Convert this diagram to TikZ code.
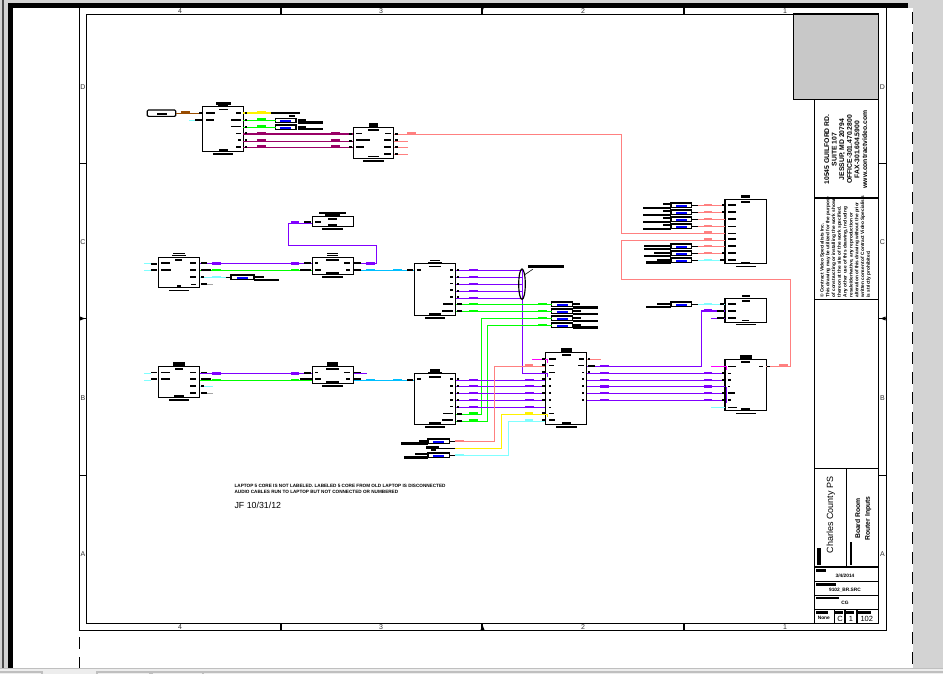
\documentclass[tikz,border=0pt]{standalone}
\usepackage{fontspec}
\setmainfont{Liberation Sans}
\usetikzlibrary{shapes.misc}
\definecolor{cpurple}{HTML}{8000FF}
\definecolor{cgreen}{HTML}{00FF00}
\definecolor{csalmon}{HTML}{FF8080}
\definecolor{ccyan}{HTML}{80FFFF}
\definecolor{csky}{HTML}{00BFFF}
\definecolor{cplum}{HTML}{990066}
\definecolor{cbrown}{HTML}{994C00}
\definecolor{cmag}{HTML}{FF00FF}
\definecolor{cpage}{HTML}{D3D3D3}
\newcommand{\blackbars}[1]{\foreach \xa/\xb/\yy/\hh in {#1} \fill[black] (\xa,\yy-\hh/2) rectangle (\xb,\yy+\hh/2);}
\newcommand{\tagbars}[2]{\foreach \xx/\yy in {#2} \fill[#1] (\xx,\yy-1.2) rectangle ++(8.5,2.5);}
\begin{document}
\begin{tikzpicture}[
                x=1pt, y=-1pt,
                line width=1.15pt,
                devbox/.style={draw, fill=white, rectangle, inner sep=0, outer sep=0},
                ferrule/.style={draw, fill=white, chamfered rectangle, chamfered rectangle xsep=1.5pt, chamfered rectangle ysep=2pt,
                    inner sep=0, outer sep=0, minimum width=20.6, minimum height=4.5,
                    path picture={\fill[blue] (path picture bounding box.center) ++(-5.5,-0.6) rectangle ++(11,2);}},
                wire/.style={line width=1.35pt},
                cell/.style={inner sep=0, font=\fontsize{5}{6}\selectfont},
                sidetext/.style={inner sep=0, rotate=90, align=center},
                rimlabel/.style={inner sep=0, text=black!80, font=\fontsize{7}{8}\selectfont},
            ]
            \useasboundingbox (0,0) rectangle (943,674);
            \fill[cpage] (0,0) rectangle (943,674);
            \fill[white] (13,8) rectangle (913,668);
            \fill[black] (8,3) rectangle (908,8);
            \fill[black] (8,3) rectangle (13,668);
            \draw[black!70] (3,0) -- (3,668);
            \fill[black!7] (0,668) rectangle (943,674);
            \draw[black!25] (0,668.5) -- (943,668.5);
            \draw[black!25] (0,672) -- (42,672) -- (42,674) (97,674) -- (97,672) -- (150,672) -- (150,674) (152,674) -- (152,672) -- (203,672) -- (203,674) (203,672) -- (943,672);
            \draw[dash pattern=on 12pt off 8pt] (912.3,12) -- (912.3,668);
            \draw[dash pattern=on 12pt off 8pt] (79.3,637) -- (79.3,668);

            \node[devbox, minimum width=807, minimum height=623] (outerframe) at (482.9,318.7) {};
            \node[devbox, minimum width=792.4, minimum height=609.5] (innerframe) at (482.5,318.9) {};
            \foreach \xx in {281,482,684} {
                \draw (\xx,7) -- (\xx,14);
                \draw (\xx,623.7) -- (\xx,630.3);
            }
            \foreach \yy in {163.5,318.5,475.5} {
                \draw (79.3,\yy) -- (86.3,\yy);
                \draw (878.7,\yy) -- (886.5,\yy);
            }
            \fill (480.5,6) -- (484.5,6) -- (482.5,11) -- cycle;
            \fill (480.5,630) -- (484.5,630) -- (482.5,625) -- cycle;
            \fill (80,316.5) -- (85,318.5) -- (80,320.5) -- cycle;
            \fill (885.5,316.5) -- (880.5,318.5) -- (885.5,320.5) -- cycle;
            \foreach \xx/\lbl/\nm in {180/4/a,381/3/b,583/2/c,785/1/d} {
                \node[rimlabel] (topnum\nm) at (\xx,10.8) {\lbl};
                \node[rimlabel] (botnum\nm) at (\xx,627) {\lbl};
            }
            \foreach \yy/\lbl in {87/D,242/C,398/B,554/A} {
                \node[rimlabel] (leftrow\lbl) at (83,\yy) {\lbl};
                \node[rimlabel] (rightrow\lbl) at (882.5,\yy) {\lbl};
            }

            \node[draw, fill=cpage!95!black, inner sep=0, outer sep=0, minimum width=85.4, minimum height=85.5] (logobox) at (836,56.8) {};
            \node[devbox, minimum width=64.4, minimum height=98.5] (addrbox) at (846.5,148.7) {};
            \node[devbox, minimum width=64.4, minimum height=101.5] (legalbox) at (846.5,248.7) {};
            \node[devbox, minimum width=64.4, minimum height=169.5] (blankbox) at (846.5,384) {};
            \node[devbox, minimum width=32, minimum height=98.5] (clientbox) at (830.3,517.8) {};
            \node[devbox, minimum width=32.4, minimum height=98.5] (titlebox) at (862.5,517.8) {};
            \node[devbox, minimum width=64.4, minimum height=14.3] (datebox) at (846.5,574.2) {};
            \node[devbox, minimum width=64.4, minimum height=14] (filebox) at (846.5,588.3) {};
            \node[devbox, minimum width=64.4, minimum height=14] (drawnbox) at (846.5,602.3) {};
            \node[devbox, minimum width=20, minimum height=14.4] (scalebox) at (824.3,616.5) {};
            \node[devbox, minimum width=10.7, minimum height=14.4] (sizebox) at (839.7,616.5) {};
            \node[devbox, minimum width=12, minimum height=14.4] (sheetbox) at (851,616.5) {};
            \node[devbox, minimum width=21.7, minimum height=14.4] (pagebox) at (867.8,616.5) {};

            \node[sidetext, font=\bfseries\fontsize{6.8}{7.6}\selectfont] (addrtext) at (845.7,149.5) {10545 GUILFORD RD.\\SUITE 107\\JESSUP, MD 20794\\OFFICE-301.470.2800\\FAX-301.604.5900\\www.contractvideo.com};
            \node[inner sep=0, rotate=90, anchor=north west, align=left, font=\bfseries\fontsize{4.75}{5.8}\selectfont] (legaltext) at (819.5,298) {© Contract Video Specialists Inc.\\This drawing may be utilized for the purpose\\of constructing or installing the work shown\\thereon at the site of the work specified.\\Any other use of this drawing, including\\resale/derivative, any reproduction or\\alteration of this drawing without the prior\\written consent of Contract Video Specialists\\is strictly prohibited.};
            \node[sidetext, font=\fontsize{9}{10}\selectfont] (clienttext) at (830.7,515) {Charles County PS};
            \node[sidetext, font=\bfseries\fontsize{6.8}{9.7}\selectfont] (titletext) at (863.2,518.5) {Board Room\\Router Inputs};
            \node[cell, font=\bfseries\fontsize{4.8}{6}\selectfont] (datetext) at (845,576.3) {3/4/2014};
            \node[cell, font=\bfseries\fontsize{4.8}{6}\selectfont] (filetext) at (845,590) {9102\_BR.SRC};
            \node[cell, font=\bfseries\fontsize{4.8}{6}\selectfont] (drawntext) at (845,603.2) {CG};
            \node[cell, font=\bfseries\fontsize{4.8}{6}\selectfont] (scaletext) at (823.8,618) {None};
            \node[cell, font=\fontsize{7.5}{8}\selectfont] (sizetext) at (840,619) {C};
            \node[cell, font=\fontsize{7.5}{8}\selectfont] (sheettext) at (851,619) {1};
            \node[cell, font=\fontsize{7.5}{8}\selectfont] (pagetext) at (866.8,619) {102};
            \blackbars{817/821/556.5/17,849.5/852/553.5/23.5,816/826/570.4/2.7,816/836/584.4/2.7,816/839/597.8/1.7,816/828/612.4/2.7,834.7/843/612.4/2.7,846/854/612.4/2.7,857.5/871/612.4/2.7}

            \node[inner sep=0, anchor=west, font=\bfseries\fontsize{4.65}{6}\selectfont] (notetexta) at (234,486) {LAPTOP 5 CORE IS NOT LABELED. LABELED 5 CORE FROM OLD LAPTOP IS DISCONNECTED};
            \node[inner sep=0, anchor=west, font=\bfseries\fontsize{4.65}{6}\selectfont] (notetextb) at (234,492) {AUDIO CABLES RUN TO LAPTOP BUT NOT CONNECTED OR NUMBERED};
            \node[inner sep=0, anchor=west, font=\fontsize{8.8}{9}\selectfont] (notedate) at (234,505.7) {JF 10/31/12};

            \node[devbox, rounded corners=1pt, minimum width=28.4, minimum height=6.3] (connbox) at (161.5,113.2) {};
            \node[devbox, minimum width=41, minimum height=45] (boxa) at (222.8,128.8) {};
            \node[devbox, minimum width=40.4, minimum height=31] (boxb) at (373.5,142.8) {};
            \node[devbox, minimum width=41.4, minimum height=30] (boxg) at (179,272.3) {};
            \node[devbox, minimum width=41.4, minimum height=17] (boxh) at (333,265.8) {};
            \node[devbox, minimum width=41.4, minimum height=10] (boxi) at (333,221.3) {};
            \node[devbox, minimum width=41.4, minimum height=52] (boxj) at (435,289.3) {};
            \node[devbox, minimum width=41.4, minimum height=31.4] (boxl) at (179,382) {};
            \node[devbox, minimum width=41.4, minimum height=17.4] (boxm) at (333,375) {};
            \node[devbox, minimum width=41.4, minimum height=51] (boxk) at (435,398.8) {};
            \node[devbox, minimum width=41.4, minimum height=72] (boxf) at (566,388.3) {};
            \node[devbox, minimum width=41.4, minimum height=64] (boxc) at (745.7,231.3) {};
            \node[devbox, minimum width=41.4, minimum height=24] (boxd) at (745.7,310.3) {};
            \node[devbox, minimum width=41.4, minimum height=51] (boxe) at (745.7,384.8) {};
            \draw[white, line width=0.7pt, dash pattern=on 1pt off 2pt] (connbox.north west) ++(2,1) -- ++(25,0);

            \foreach \nm/\xx/\yy/\fwid in {faa/285.8/120.4/20.3,fab/285.8/127.3/20.3,fga/242.5/277.3/23,fda/681.3/304.3/20.6,fka/438.6/441.3/21.3,fkc/438.6/455.3/21.3}
                \node[ferrule, minimum width=\fwid] (\nm) at (\xx,\yy) {};
            \foreach \nm/\yy in {a/205.3,b/212.3,c/219.3,d/226.3,e/246.3,f/253.3,g/260.3}
                \node[ferrule] (fc\nm) at (681.3,\yy) {};
            \foreach \nm/\yy in {a/304.3,b/311.3,c/318.3,d/325.3}
                \node[ferrule] (fj\nm) at (562,\yy) {};
            \coordinate (plugt) at (286,113);
            \coordinate (plugk) at (438.3,448.3);

            \draw[wire, cbrown] (connbox.east) -- (boxa.west |- connbox.east);
            \draw[wire, ccyan] (189,120.3) -- (boxa.west |- 0,120.3);
            \draw[wire, yellow] (boxa.east |- 0,113) -- (270.7,113);
            \draw[wire] (270.7,113) -- (plugt);
            \draw[wire, cgreen] (boxa.east |- faa.west) -- (faa.west);
            \draw[wire, cgreen] (boxa.east |- fab.west) -- (fab.west);
            \foreach \yy in {134,141.5,147.5}
                \draw[wire, cplum] (boxa.east |- 0,\yy) -- (boxb.west |- 0,\yy);
            \foreach \yy in {141.3,147.3,154.3}
                \draw[wire, csalmon] (boxb.east |- 0,\yy) -- (408,\yy);
            \draw[wire, csalmon] (boxb.east |- 0,134.3) -| (621.3,233.3) -- (boxc.west |- 0,233.3);
            \draw[wire, csalmon] (boxc.west |- 0,240.3) -- (621.3,240.3) |- (790.3,279.3) |- (boxe.east |- 0,366.3);

            \foreach \nm in {a,b,c,d,e,f} {
                \draw[wire] (fc\nm.east) -- +(6.3,0);
                \draw[wire, csalmon] (fc\nm.east) ++(6.3,0) -- (boxc.west |- fc\nm.east);
            }
            \draw[wire] (fcg.east) -- +(6.3,0);
            \draw[wire, ccyan] (fcg.east) ++(6.3,0) -- (boxc.west |- fcg.east);
            \draw[wire] (fda.east) -- +(6.3,0);
            \draw[wire, ccyan] (fda.east) ++(6.3,0) -- (boxd.west |- fda.east);

            \foreach \yy in {263.7,373.7}
                \draw[wire, ccyan] (144,\yy+0) -- (151,\yy+0);
            \foreach \yy in {270.3,380.3}
                \draw[wire, ccyan] (144,\yy) -- (151,\yy);
            \draw[wire, cpurple] (boxg.east |- 0,263.7) -- (boxh.west |- 0,263.7);
            \draw[wire, cgreen] (boxg.east |- 0,270.3) -- (boxh.west |- 0,270.3);
            \draw[wire, ccyan] (boxg.east |- fga.west) -- (226,277.3);
            \draw[wire] (226,277.3) -- (fga.west);
            \draw[wire, black!35] (207,284.3) -- (213,284.3);
            \draw[wire, cpurple] (boxh.east |- 0,263.7) -| (376.3,245.3) -| (288.3,223.3) -- (boxi.west |- 0,223.3);
            \draw[wire, csky] (boxh.east |- 0,270.3) -- (boxj.west |- 0,270.3);

            \draw[wire, cpurple] (boxl.east |- 0,373.7) -- (boxm.west |- 0,373.7);
            \draw[wire, cgreen] (boxl.east |- 0,380.3) -- (boxm.west |- 0,380.3);
            \draw[wire, ccyan] (boxl.east |- 0,386.3) -- (213,386.3);
            \draw[wire, black!35] (207,393.3) -- (213,393.3);
            \draw[wire, cpurple] (boxm.east |- 0,373.7) -- (367,373.7);
            \draw[wire, csky] (boxm.east |- 0,380.3) -- (boxk.west |- 0,380.3);

            \foreach \yy in {270.3,277.3,284.3,291.3,298.3}
                \draw[wire, cpurple] (boxj.east |- 0,\yy) -- (522.3,\yy);
            \draw[wire, cpurple] (522.3,270.3) -- (522.3,373.3) -- (boxf.west |- 0,373.3);
            \draw (522,284.2) ellipse (3.3 and 15.2);
            \draw[line width=0.6pt] (524.3,275) -- (532.7,269.3);
            \draw[wire, cgreen] (boxj.east |- fja.west) -- (fja.west);
            \draw[wire, cgreen] (boxj.east |- fjb.west) -- (fjb.west);
            \draw[wire, cgreen] (fjc.west) -| (481.3,414.3) -- (boxk.east |- 0,414.3);
            \draw[wire, cgreen] (fjd.west) -| (487.3,421.3) -- (boxk.east |- 0,421.3);

            \foreach \yy in {380.3,386.3,393.3,400.3,407.3}
                \draw[wire, cpurple] (boxk.east |- 0,\yy) -- (boxf.west |- 0,\yy);
            \draw[wire] (fka.east) -- (455,441.3);
            \draw[wire, csalmon] (455,441.3) -| (494.3,366.3) -- (boxf.west |- 0,366.3);
            \draw[wire] (plugk) -- (455,448.3);
            \draw[wire, yellow] (455,448.3) -| (501.3,414.3) -- (boxf.west |- 0,414.3);
            \draw[wire] (fkc.east) -- (455,455.3);
            \draw[wire, ccyan] (455,455.3) -| (508.3,421.3) -- (boxf.west |- 0,421.3);
            \draw[wire, cmag] (532,359.3) -- (547.7,359.3) -- (547.7,362.7);
            \draw[wire, cpurple] (545.3,373.3) -- (547.7,373.3) -- (547.7,376.7);
            \draw[wire, yellow] (545.3,414.3) -- (547.7,414.3) -- (547.7,416.7);
            \draw[wire, csalmon] (boxf.east |- 0,359.3) -- (601,359.3);

            \draw[wire, cpurple] (boxf.east |- 0,366.3) -| (701.3,311) -- (boxd.west |- 0,311);
            \draw[wire, cpurple] (711,318.3) -- (boxd.west |- 0,318.3);
            \foreach \yy in {373.3,380.3,386.7,393.3,400.3}
                \draw[wire, cpurple] (boxf.east |- 0,\yy) -- (boxe.west |- 0,\yy);
            \draw[wire, cpurple] (726.2,386.7) -- (726.2,403);
            \draw[wire, cmag] (711,366.3) -- (726.2,366.3) -- (726.2,369.5);
            \draw[wire, ccyan] (711,407.3) -- (boxe.west |- 0,407.3);

            \tagbars{cbrown}{181/112.7}
            \tagbars{yellow}{257/112.3,524.5/413.2}
            \tagbars{cgreen}{257/119.7,257/126.4,212/269.8,290.5/269.8,212/379.8,290.5/379.8,469/303.8,469/310.8,538/303.8,538/310.8,538/317.8,538/324.8,469/412.8,469/419.8}
            \tagbars{cplum}{257/133.3,257/140.3,257/146.7,331/133.3,331/140.3,331/146.7}
            \tagbars{csalmon}{407/133.7,703.5/204.8,703.5/211.8,703.5/218.8,703.5/225.8,703.5/232.3,703.5/239.3,703.5/245.8,703.5/252.8,779/365.5,455/440.8,524.5/365.5}
            \tagbars{ccyan}{212/276.8,703.5/259.8,703.5/303.8,455/454.8,524.5/420.2}
            \tagbars{csky}{366/269.8,393/269.8,366/379.8,393/379.8}
            \tagbars{cpurple}{212/263.2,290.5/263.2,366/263.2,290.5/222.5,212/373.2,290.5/373.2,469/269.8,469/276.8,469/283.8,469/290.8,469/297.8,469/379.8,469/385.8,469/392.8,469/399.8,469/406.8,525/379.8,525/385.8,525/392.8,525/399.8,525/406.8,600/365.8,600/372.8,600/379.8,600/386.2,600/392.8,600/399.8,703.5/310.5,703.5/372.8,703.5/379.8,703.5/386.2,703.5/392.8,703.5/399.8}

            \blackbars{157/167/114/2,199/202/113.5/2,216/230.7/103.5/2.4,218/228/105.3/1.5,219/228/109.3/1,219/228/150.2/2.3,213/233/153.8/1.7,206/215/113/2,206/214/120/2,236/241/113/2,231/241/120/2,231/241/126.3/1,236/241/133.3/1,238/241/140/2,236/241/147/2,245/247/113/2,245/247/120/2,245/247/127/2,245/247/133/2,245/247/140/2,245/247/147/2,195/202/120/2}
            \blackbars{286/300/112.7/2,289/295/115.8/2.3,298/306/119.8/1.7,298/323/122.5/2.4,298/306/126.7/2,298/323/129/2}
            \blackbars{369/378/125.2/3.7,368/379/129.8/1.7,368/379/156.3/1,363/384/161/2,356/362/133.7/1,356/370/139.7/2,356/364/146.7/2,385/391/133.7/1,384/391/139.7/2,384/391/146.7/2,384/391/153.7/2,395/398/133.7/2,395/398/139.7/2,395/398/147.3/2,395/398/154/2,349/352.3/133.7/2,349/352.3/140.7/2,349/352.3/147/2}
            \blackbars{173/185/253.3/1,172/186/255.3/1,175/182/259.8/1.7,177/181/286.2/2.3,169/189/290.3/1,161/170/263/2,161/171/270/2,190/196/263/2,190/196/270/2,190/196/277/2,191/196/284/1,151/157/263.5/2,151/157/270/2,201/207/263/2,201/211/270/2,201/204/277/2,201/207/284/2}
            \blackbars{327/338/253.3/1,327/338/255.3/1,326/339/260/2,326/339/273.2/2.3,322/343/276.7/2,315/318/263/2,315/321/270/2,344/350/263/2,346/350/270/2,354/361/263/2,354/361/270/2,304/311/263/2,300/311/270/2}
            \blackbars{319/346/212.8/1.7,325/340/215.2/2.3,328/337/219/2,328/337/225.2/2.3,322/343/229/2,315/321/222/2,304/311/222/2}
            \blackbars{254/264/276.7/2,254/279/280/2,407/413/269.8/2,417/421/270/2}
            \blackbars{173/185/364.2/3.7,175/183/369/2,174/184/396.5/2.3,169/189/400/2,161/170/372.7/1,161/170/379/2,190/196/372.7/1,190/196/379/2,190/196/386/2,190/196/393/2,151/157/372.7/1,151/157/379/2,201/207/372.7/1,201/211/379/2,201/204/386/2,201/207/393/2}
            \blackbars{327/338/364.2/3.7,326/339/369/2,326/339/382.5/2.3,322/343/386/2,315/318/372.7/1,315/321/379/2,344/350/372.7/1,346/350/379/2,354/361/372.7/1,354/361/379/2,304/311/373/2,300/312/379/2,407/413/379.5/2,417/421/379/2}
            \blackbars{430/440/260.7/1,428/442/262.7/1,429/441/266.3/1,429/441/314.2/2.3,425/445/318/2,450/453.3/270/2,450/453.3/277/2,450/453.3/283.7/1,450/453.3/290.3/2,450/453.3/296.7/2,443/453/304/2,442/453/311/2,457/459/270/2,457/459/277/2,457/459/284/2,457/459/290.7/2,457/459/297/2,457/462/304/2,457/462/311/2}
            \blackbars{430/440/370.7/2.7,428/442/372.7/1.5,429/441/377/2,429/441/423.3/2,425/445/427/2,417/421/378.7/2,450/453.3/379/2,450/453.3/386/2,450/453.3/393/2,450/453.3/400/2,450/453.3/406.7/1,443/453/413.3/1,442/453/420/2,457/459/379/2,457/459/386/2,457/459/393/2,457/459/400/2,457/459/407/2,457/462/414/2,457/462/421/2}
            \blackbars{528/564/266.5/3,573/580/303.7/2,573/598/307.3/2.4,573/581/311/2,573/598/314/2.4,573/581/317.7/2,573/598/321/2.4,573/581/325/2,573/598/327.5/2.4}
            \blackbars{419/428/441.3/2.7,401/428/443.3/2.7,426/439/447.3/2.7,431/436/449.8/2.3,415/428/454/2,404/428/457.3/2.4}
            \blackbars{561/572/350/4,562/571/354.8/1.7,562/571/423.3/2,556/577/427/2,549/556/358.7/2,549/554/365.3/1,549/555/372.3/1,549/551/379/2,549/551/386/2,549/551/393/2,549/551/400/2,549/551/407/1,549/554/413.3/1,549/555/420/2,579/584/358.7/2,578/584/365/1,582/584/372/1,582/584/379/2,582/584/386/2,582/584/393/2,582/584/400/2,588/590/358.7/2,588/595/366/2,588/590/372/2,542/545/359/2,542/545/365.3/2,542/545/372.3/2,542/545/379/2,542/545/386/2,542/545/393/2,542/545/400/2,542/545/413.3/2,542/545/420/2}
            \blackbars{741/750/197/3,741/750/202/1.7,741/750/262/1,736/756/266.3/1,728/736/205.3/2,728/736/212.3/2,728/736/219.3/2,728/736/226.3/1,728/736/233.3/1,728/736/239.3/2,728/736/246/2,728/736/253/2,728/736/260/2,722/725/205.3/2,722/725/212.3/2,722/725/253/2,720/725/260/2}
            \blackbars{663/671/204.3/1.8,643/671/207.7/2,663/671/211.3/1.8,643/671/214.7/2,663/671/218.3/1.8,643/671/221.7/2.4,663/671/225.3/1.8,643/671/228.7/2.4,644/671/245.7/1.8,644/671/248.7/2,654/671/252.7/1.8,644/671/255.7/2,657/671/260/1.8,646/671/262.3/2.4}
            \blackbars{742/750/295.5/2,742/750/300.8/1.7,742/749/320.3/1,736/756/324.3/1,728/736/304.3/2,728/736/311/2,728/736/318.3/2,720/724/304.3/2,717/724/311/2,717/724/318/2,657/671/304/2,646/671/307/2}
            \blackbars{740/752/357/4,741/750/362/2,741/750/409.2/2.3,736/756/413.3/1,728/736/366.3/1,728/731/373.3/1,728/731/380.3/2,728/730/386.7/1,728/735/393.3/2,728/731/400.3/2,728/737/407.3/1,759/763/366.3/1,767/770/366/1,722/725/373.3/2,722/725/380.3/2,722/725/393.3/2,722/725/400.3/2}
        \end{tikzpicture}
\end{document}
